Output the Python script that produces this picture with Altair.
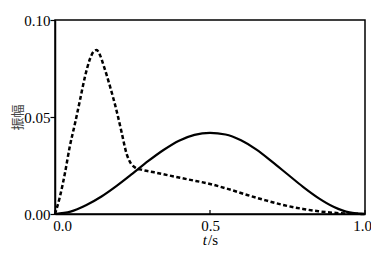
import altair as alt
import pandas as pd

# Solid curve
solid_t = [0, 0.05, 0.1, 0.15, 0.2, 0.25, 0.3, 0.35, 0.4, 0.45, 0.5, 0.55, 0.6,
           0.65, 0.7, 0.75, 0.8, 0.85, 0.9, 0.95, 1.0]
solid_v = [0, 0.0012, 0.0045, 0.0090, 0.0146, 0.0208, 0.0272, 0.0330, 0.0378,
           0.0408, 0.0418, 0.0410, 0.0380, 0.0332, 0.0270, 0.0205, 0.0140,
           0.0082, 0.0036, 0.0008, 0]

# Dashed curve
dash_t = [0, 0.016, 0.032, 0.048, 0.065, 0.081, 0.097, 0.113, 0.125, 0.134,
          0.145, 0.156, 0.177, 0.199, 0.215, 0.231, 0.245, 0.26, 0.28, 0.32,
          0.37, 0.43, 0.5, 0.56, 0.62, 0.68, 0.74, 0.8, 0.85, 0.9, 0.95, 1.0]
dash_v = [0, 0.009, 0.021, 0.035, 0.047, 0.059, 0.071, 0.080, 0.0838, 0.0845,
          0.082, 0.077, 0.066, 0.053, 0.042, 0.031, 0.026, 0.0238, 0.0228,
          0.0215, 0.0198, 0.0178, 0.0155, 0.0128, 0.0098, 0.0070, 0.0045,
          0.0026, 0.0014, 0.0006, 0.0002, 0]

x_ticks = [0.0, 0.5, 1.0]
y_ticks = [0.0, 0.05, 0.10]

solid_df = pd.DataFrame({"t": solid_t, "v": solid_v})
dash_df = pd.DataFrame({"t": dash_t, "v": dash_v})
tick_df = pd.DataFrame({"t": x_ticks, "v0": [0.0] * 3, "v1": [0.002] * 3})

font = "Liberation Serif, Times New Roman, serif"
xscale = alt.Scale(domain=[0, 1], nice=False)
yscale = alt.Scale(domain=[0, 0.1], nice=False)

xax = alt.Axis(values=x_ticks, format=".1f", title=None, grid=False,
               tickSize=0, labelPadding=4, labelFont=font, labelFontSize=15,
               labelFlush=False,
               labelOffset={"condition": [
                   {"test": "datum.value == 0", "value": 7},
                   {"test": "datum.value == 1", "value": -3}],
                   "value": 0},
               labelColor="black", domainColor="black", domainWidth=1.5)
yax = alt.Axis(values=y_ticks, format=".2f", title="振幅", grid=False,
               tickSize=5, tickColor="black", tickWidth=1.2, labelPadding=0,
               labelFont=font, labelFontSize=15, labelColor="black",
               domainColor="black", domainWidth=1.5,
               titleFont="Noto Sans CJK SC", titleFontSize=13,
               titleFontWeight="normal", titleColor="#444444",
               titleX=-38, titleY=97, titleAngle=270,
               titleAlign="center", titleBaseline="middle")

solid = alt.Chart(solid_df).mark_line(color="black", strokeWidth=2.2,
                                      interpolate="monotone").encode(
    x=alt.X("t:Q", scale=xscale, axis=xax),
    y=alt.Y("v:Q", scale=yscale, axis=yax),
)
dashed = alt.Chart(dash_df).mark_line(color="black", strokeWidth=2.5,
                                      strokeDash=[4, 2.5],
                                      interpolate="monotone").encode(
    x=alt.X("t:Q", scale=xscale),
    y=alt.Y("v:Q", scale=yscale),
)
ticks = alt.Chart(tick_df).mark_rule(color="black", strokeWidth=1.2).encode(
    x=alt.X("t:Q", scale=xscale),
    y=alt.Y("v0:Q", scale=yscale),
    y2="v1:Q",
)
t_txt = alt.Chart(pd.DataFrame({"s": ["t"]})).mark_text(
    font=font, fontSize=15, fontStyle="italic", align="right",
    baseline="alphabetic", color="black").encode(
    text="s:N", x=alt.value(152), y=alt.value(225))
s_txt = alt.Chart(pd.DataFrame({"s": ["/s"]})).mark_text(
    font=font, fontSize=15, align="left",
    baseline="alphabetic", color="black").encode(
    text="s:N", x=alt.value(153), y=alt.value(225))

chart = alt.layer(solid, dashed, ticks, t_txt, s_txt).properties(
    width=310, height=194,
    autosize=alt.AutoSizeParams(type="none"),
    padding={"left": 47, "top": 12, "right": 6, "bottom": 36},
).configure_view(stroke="black", strokeWidth=1.5)

chart.save("out.html", embed_options={"renderer": "svg", "actions": False})
